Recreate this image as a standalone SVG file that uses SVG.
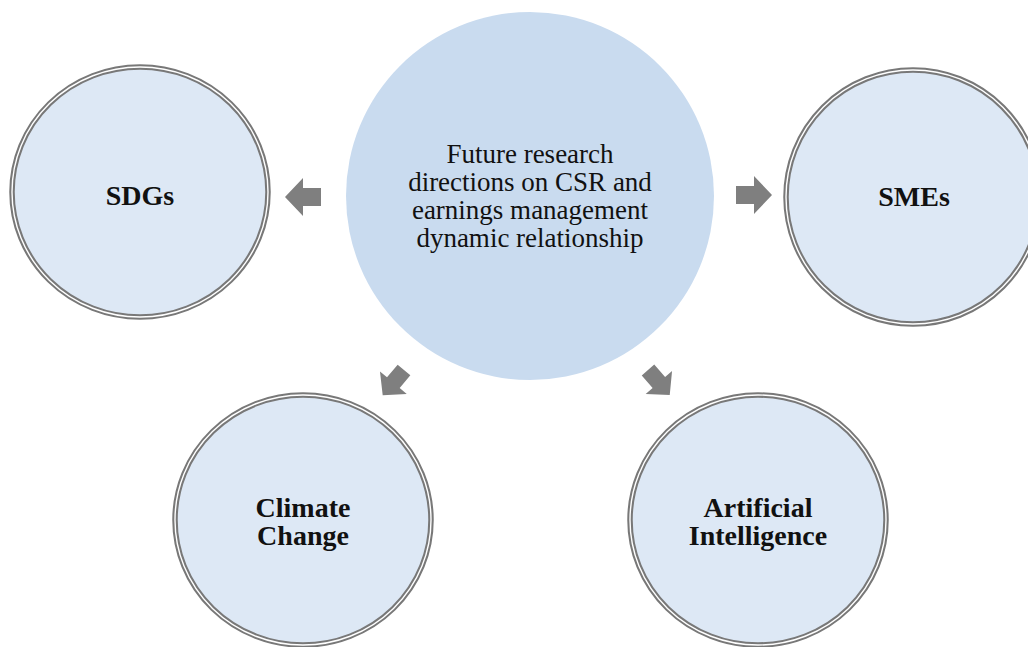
<svg xmlns="http://www.w3.org/2000/svg" xmlns:xlink="http://www.w3.org/1999/xlink" width="1028" height="647" viewBox="0 0 1028 647">
  <style>
    .hub { fill: #c9dbef; }
    .ring { fill: #dde8f5; stroke: #787878; stroke-width: 5.5; }
    .gap { fill: none; stroke: #ffffff; stroke-width: 1.4; }
    .hub-text { font-family: "Liberation Serif", "Times New Roman", serif; font-size: 27px; fill: #111111; text-anchor: middle; }
    .leaf-text { font-family: "Liberation Serif", "Times New Roman", serif; font-size: 28px; font-weight: bold; fill: #111111; text-anchor: middle; }
    .arrow { fill: #7f7f7f; }
  </style>
  <defs>
    <!-- block arrow pointing along +x, tail at the origin -->
    <path id="blockArrow" class="arrow" d="M0,-9 H18 V-19 L36,0 L18,19 V9 H0 Z"/>
  </defs>
  <rect width="1028" height="647" fill="#ffffff"/>

  <g id="hub">
    <circle class="hub" cx="530" cy="196" r="184"/>
    <text class="hub-text" x="530" y="163">Future research</text>
    <text class="hub-text" x="530" y="191">directions on CSR and</text>
    <text class="hub-text" x="530" y="219">earnings management</text>
    <text class="hub-text" x="530" y="247">dynamic relationship</text>
  </g>

  <g id="sdgs">
    <ellipse class="ring" cx="140" cy="192" rx="128" ry="125"/>
    <ellipse class="gap" cx="140" cy="192" rx="128" ry="125"/>
    <text class="leaf-text" x="140" y="205">SDGs</text>
  </g>

  <g id="smes">
    <ellipse class="ring" cx="913" cy="197" rx="127" ry="127"/>
    <ellipse class="gap" cx="913" cy="197" rx="127" ry="127"/>
    <text class="leaf-text" x="914" y="206">SMEs</text>
  </g>

  <g id="climate-change">
    <ellipse class="ring" cx="303" cy="520" rx="128" ry="125"/>
    <ellipse class="gap" cx="303" cy="520" rx="128" ry="125"/>
    <text class="leaf-text" x="303" y="517">Climate</text>
    <text class="leaf-text" x="303" y="545">Change</text>
  </g>

  <g id="artificial-intelligence">
    <ellipse class="ring" cx="758" cy="520" rx="128" ry="125"/>
    <ellipse class="gap" cx="758" cy="520" rx="128" ry="125"/>
    <text class="leaf-text" x="758" y="517">Artificial</text>
    <text class="leaf-text" x="758" y="545">Intelligence</text>
  </g>

  <g id="connectors">
    <use xlink:href="#blockArrow" href="#blockArrow" transform="translate(321,197) rotate(180)"/>
    <use xlink:href="#blockArrow" href="#blockArrow" transform="translate(736,195)"/>
    <use xlink:href="#blockArrow" href="#blockArrow" transform="translate(404,370) rotate(130) scale(0.92)"/>
    <use xlink:href="#blockArrow" href="#blockArrow" transform="translate(648,370) rotate(49) scale(0.92)"/>
  </g>
</svg>
